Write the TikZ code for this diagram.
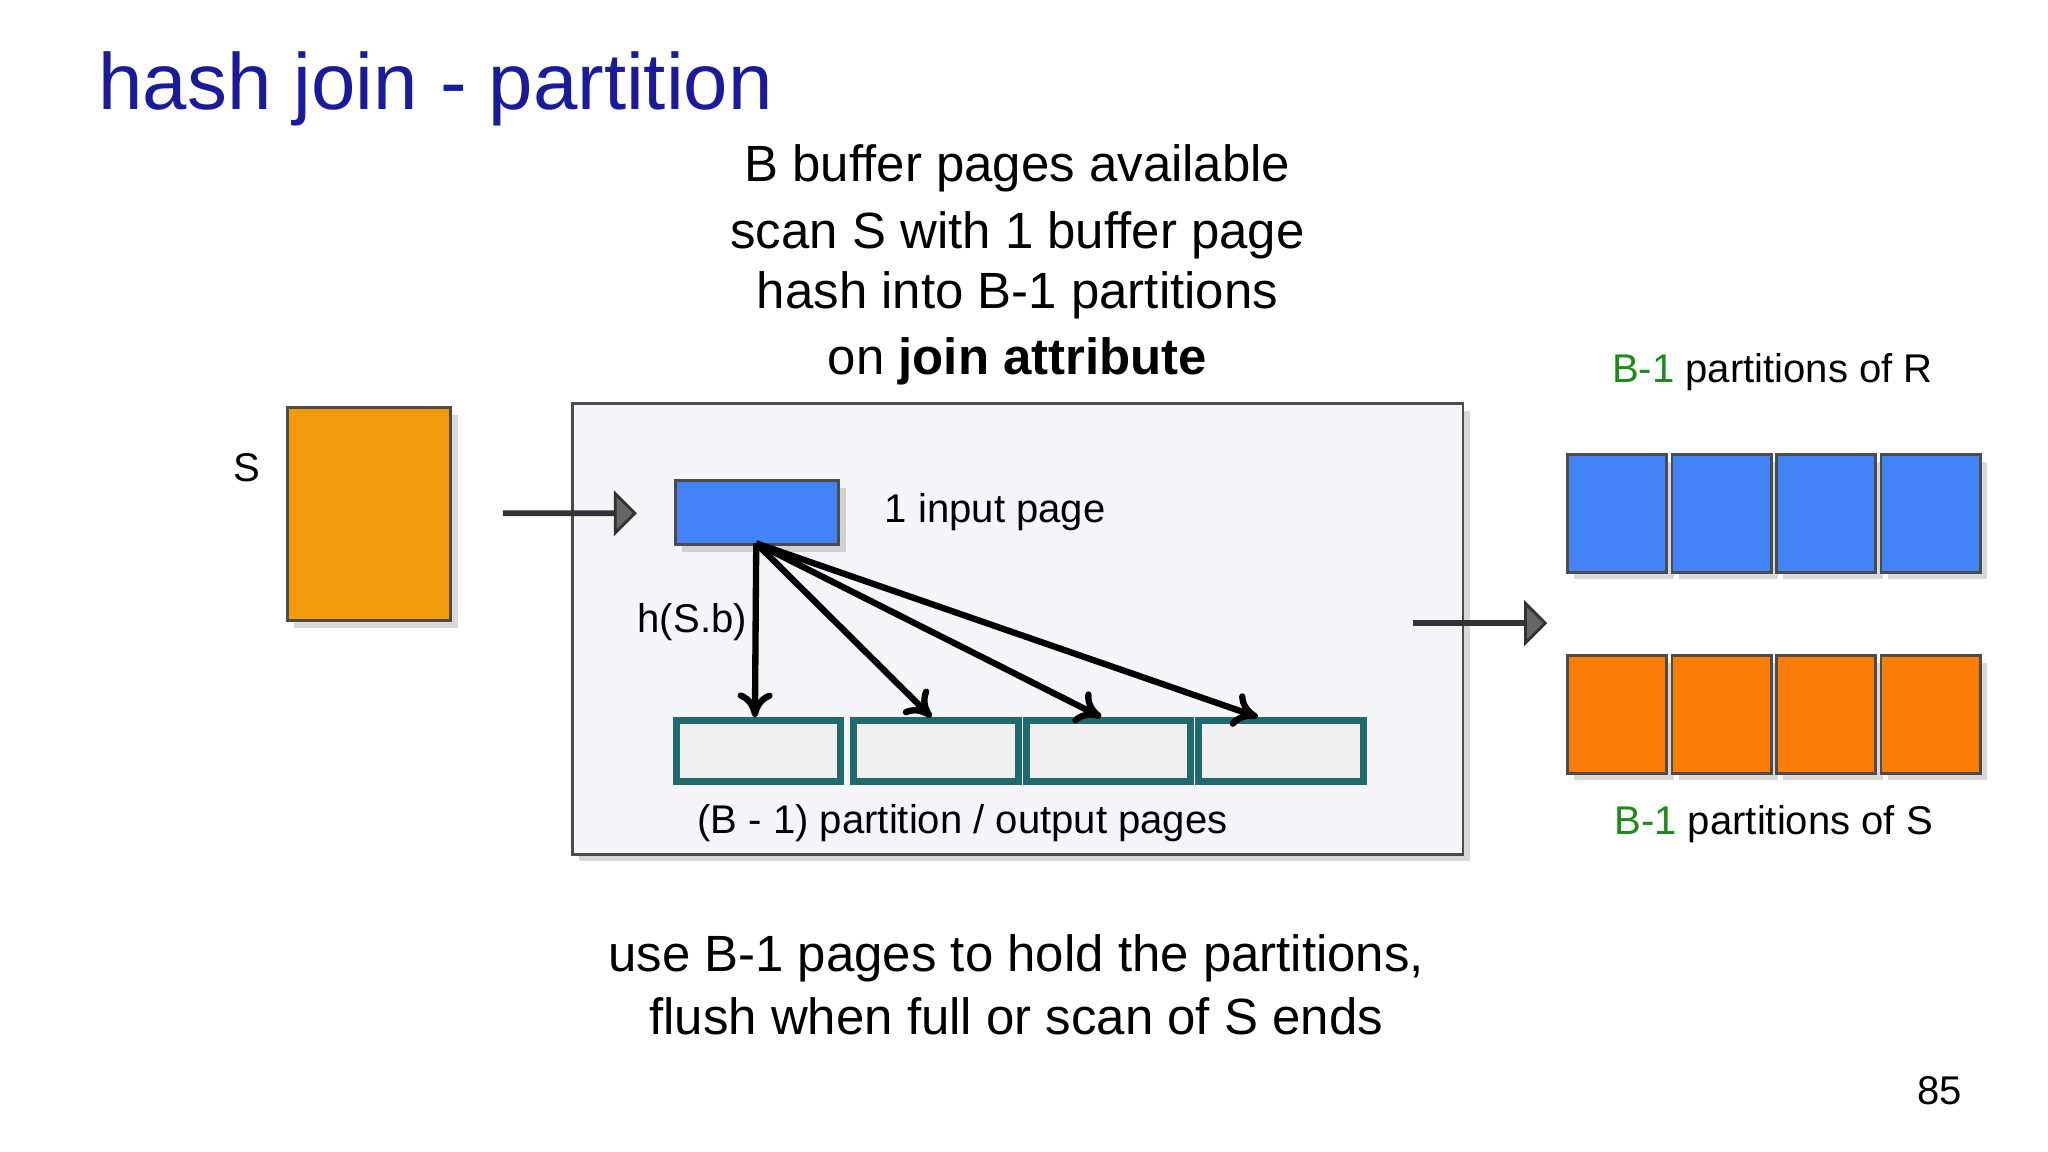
\documentclass[tikz,border=0pt]{standalone}
\usepackage{fontspec}
\setmainfont{Liberation Sans}
\usetikzlibrary{shapes.arrows,arrows.meta,shadows}
\definecolor{titleblue}{HTML}{1A1A9C}
\definecolor{pblue}{HTML}{4283F7}
\definecolor{sorange}{HTML}{F39A0A}
\definecolor{porange}{HTML}{FC7C05}
\definecolor{teal}{HTML}{1E6A6C}
\definecolor{bgray}{HTML}{F5F5F7}
\definecolor{ggreen}{HTML}{198C19}
\begin{document}
\begin{tikzpicture}[x=0.013061cm,y=-0.013061cm,
  pg/.style={draw=black!70,line width=0.8pt,inner sep=0,anchor=north west,drop shadow={shadow xshift=2pt,shadow yshift=-2pt,opacity=0.3}},
  outp/.style={draw=teal,line width=2pt,fill=black!6,inner sep=0,anchor=north west},
  fat/.style={single arrow,draw=black!80,fill=black!60,line width=0.8pt,inner sep=0,anchor=tail,
    minimum height=100*0.013061cm,minimum width=30*0.013061cm,single arrow head extend=14*0.013061cm,single arrow tip angle=90},
  hash/.style={-{To[length=7pt,width=10pt]},line width=1.8pt},
  body/.style={font=\fontsize{14.5}{18}\selectfont},
  small/.style={font=\fontsize{11.4}{14}\selectfont}]
\useasboundingbox (0,0) rectangle (1568,882);
\fill[white] (0,0) rectangle (1568,882);
\node[anchor=west,text=titleblue,font=\fontsize{22.7}{27}\selectfont] (title) at (66,68) {hash join - partition};
\node[body,align=center] (top) at (779,203) {B buffer pages available\\[1pt] scan S with 1 buffer page\\[-1pt] hash into B-1 partitions\\[1pt] on \textbf{join attribute}};
\node[pg,fill=bgray,drop shadow={opacity=0},minimum width=682*0.013061cm,minimum height=345*0.013061cm] (mem) at (437,308) {};
\node[pg,fill=sorange,minimum width=125*0.013061cm,minimum height=163*0.013061cm] (S) at (219,311) {};
\node[small] (Slab) at (189,358) {S};
\node[fat] (a1) at (385,393) {};
\node[fat] (a2) at (1082,477) {};
\node[pg,fill=pblue,minimum width=125*0.013061cm,minimum height=49*0.013061cm] (in) at (516,367) {};
\node[small,anchor=west] (inlab) at (668,392) {1 input page};
\foreach \i/\x in {1/515,2/651,3/783,4/915}
  \node[outp,minimum width=126*0.013061cm,minimum height=47*0.013061cm] (o\i) at (\x,549) {};
\coordinate (src) at (579,416);
\draw[hash] (src) -- (578,549);
\draw[hash] (src) -- (713,549);
\draw[hash] (src) -- (843,549);
\draw[hash] (src) -- (963,549);
\node[small] (hlab) at (530,476) {h(S.b)};
\node[small] (olab) at (737,630) {(B - 1) partition / output pages};
\foreach \i/\x in {1/1199,2/1279,3/1359,4/1439}{
  \node[pg,fill=pblue,minimum width=76*0.013061cm,minimum height=90*0.013061cm] (r\i) at (\x,347) {};
  \node[pg,fill=porange,minimum width=76*0.013061cm,minimum height=90*0.013061cm] (s\i) at (\x,501) {};
}
\node[small] (rlab) at (1357,285) {\textcolor{ggreen}{B-1} partitions of R};
\node[small] (slab) at (1358,631) {\textcolor{ggreen}{B-1} partitions of S};
\node[body,align=center] (bot) at (778,754) {use B-1 pages to hold the partitions,\\[0pt] flush when full or scan of S ends};
\node[small] (num) at (1485,835) {85};
\end{tikzpicture}
\end{document}
